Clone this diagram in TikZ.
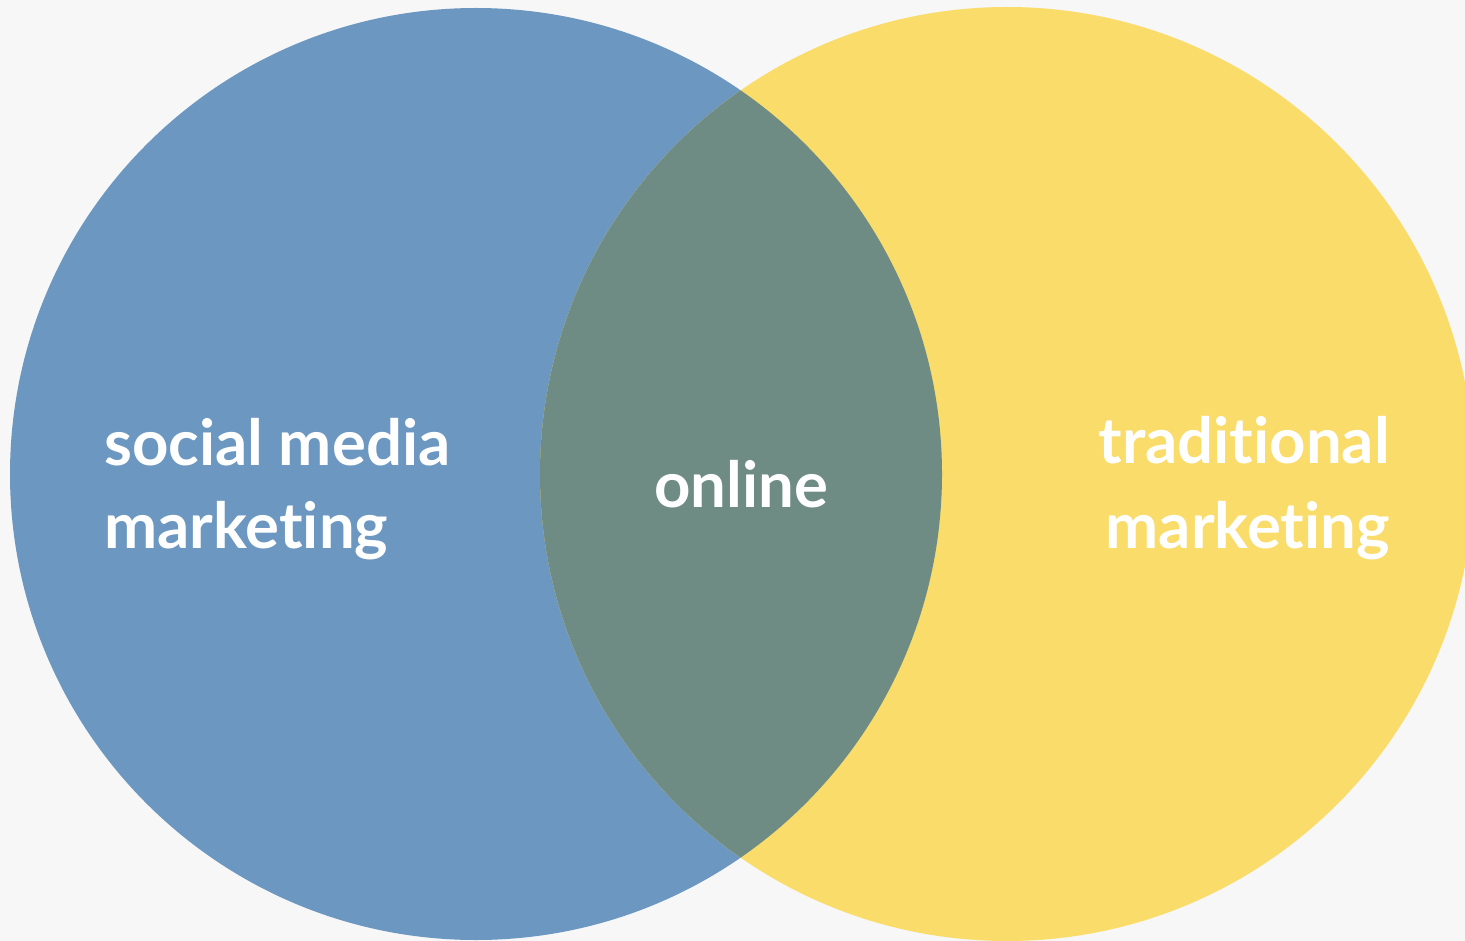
\documentclass[tikz,border=0pt]{standalone}
\usepackage{fontspec}
\setmainfont[Ligatures={NoCommon}]{Lato}
\definecolor{bgcol}{HTML}{F7F7F7}
\definecolor{bluecol}{HTML}{6C97C1}
\definecolor{yellowcol}{HTML}{F9DC69}
\definecolor{overlapcol}{HTML}{6E8B84}
\begin{document}
\begin{tikzpicture}[x=1pt,y=-1pt,
  lbl/.style={text=white,font=\fontsize{63.5}{80}\selectfont\bfseries,inner sep=0pt}]
  % canvas
  \fill[bgcol] (0,0) rectangle (1465,941);
  \useasboundingbox (0,0) rectangle (1465,941);
  \clip (0,0) rectangle (1465,941);
  % the two sets
  \coordinate (cl) at (476,474);
  \coordinate (cr) at (1007,474);
  \fill[bluecol] (cl) circle[radius=466];
  \fill[yellowcol] (cr) circle[radius=467];
  \begin{scope}
    \clip (cl) circle[radius=466];
    \fill[overlapcol] (cr) circle[radius=467];
  \end{scope}
  % labels
  \node[lbl,anchor=base west] (sm1) at (104,465) {social media};
  \node[lbl,anchor=base west] (sm2) at (104,548) {marketing};
  \node[lbl,anchor=base] (on) at (741,507) {online};
  \node[lbl,anchor=base east] (tr1) at (1390,463) {traditional};
  \node[lbl,anchor=base east] (tr2) at (1390,548) {marketing};
\end{tikzpicture}
\end{document}
